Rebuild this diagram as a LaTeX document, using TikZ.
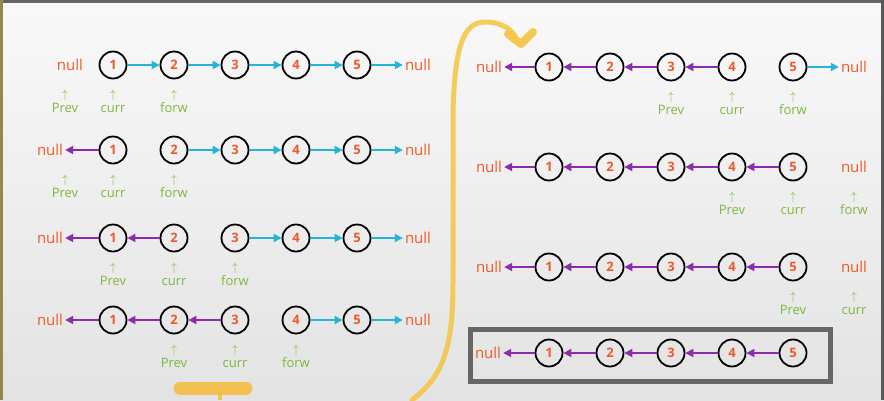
\documentclass[tikz,border=0pt]{standalone}
\usepackage{fontspec}
\setmainfont{Open Sans}
\usetikzlibrary{arrows.meta}

\definecolor{numred}{HTML}{EE5A2A}
\definecolor{ptrgreen}{HTML}{7DB83F}
\definecolor{fwdblue}{HTML}{25B4D6}
\definecolor{revpurple}{HTML}{8C2BAE}
\definecolor{penyellow}{HTML}{F4C542}
\definecolor{boxgrey}{HTML}{666666}

\tikzset{
  listnode/.style={draw, circle, line width=1.8pt, minimum size=27pt, inner sep=0pt, text=numred, font=\bfseries\fontsize{13}{13}\selectfont},
  nullnode/.style={text=numred, inner sep=2pt, font=\fontsize{15}{15}\selectfont},
  ptrnode/.style={text=ptrgreen, align=center, font=\fontsize{13}{14}\selectfont},
  fwdlink/.style={draw=fwdblue, line width=1.8pt, -{Triangle[length=8pt,width=8pt]}},
  revlink/.style={draw=revpurple, line width=1.8pt, -{Triangle[length=8pt,width=8pt]}},
}

\begin{document}
\begin{tikzpicture}[x=1pt, y=-1pt]
	% background and screen frame
	\fill[top color=gray!5, bottom color=gray!22] (0,0) rectangle (884,400);
	\useasboundingbox (0,0) rectangle (884,400);
	\fill[gray!80!black] (0,0) rectangle (884,3);
	\fill[olive!45!gray] (0,0) rectangle (2.5,400);
	\fill[gray!70!black] (881,0) rectangle (884,400);
	
	% pen strokes
	\draw[penyellow, line width=5pt, line cap=round, opacity=0.85] (412,400) .. controls (445,375) and (453,345) .. (453,280) -- (453,110) .. controls (455,50) and (462,22) .. (485,22) .. controls (500,22) and (510,28) .. (515,36);
	\draw[penyellow, line width=8pt, line cap=round, line join=round, opacity=0.9] (508,34) -- (521,44) -- (533,32);
	\draw[penyellow!85!orange, line width=13pt, line cap=round, opacity=0.85] (180,388) -- (246,388);
	\draw[penyellow!85!orange, line width=4pt, opacity=0.85] (220,392) -- (220,400);
	
	% one row per step: name/x/y/null gap/reversed links/pointer position
	\foreach \rw/\ox/\oy/\nx/\nrev/\pos in {a/113/65/43/0/0, b/113/150/63/1/0, c/113/238/63/2/1, d/113/320/63/3/2,
	    e/549/67/60/4/3, f/549/167/60/5/4, g/549/267/60/5/5, h/549/353/61/5/9} {
		\node[nullnode] (\rw0) at (\ox-\nx,\oy) {null};
		\foreach \i in {1,...,5}
			\node[listnode] (\rw\i) at (\ox+61*\i-61,\oy) {\i};
		\if\rw h\else
			\node[nullnode] (\rw6) at (\ox+305,\oy) {null};
		\fi
		% links still pointing forward
		\pgfmathtruncatemacro\first{\nrev+1}
		\ifnum\nrev<5
			\foreach \i [evaluate=\i as \j using int(\i+1)] in {\first,...,5}
				\draw[fwdlink] (\rw\i) -- (\rw\j);
		\fi
		% links already reversed
		\ifnum\nrev>0
			\foreach \i [evaluate=\i as \j using int(\i-1)] in {1,...,\nrev}
				\draw[revlink] (\rw\i) -- (\rw\j);
		\fi
		% prev / curr / forw
		\ifnum\pos<9
			\foreach \d/\lab in {0/Prev,1/curr,2/forw} {
				\pgfmathtruncatemacro\q{\pos+\d}
				\ifnum\q<7
					\pgfmathsetmacro\lx{\q==0 ? \ox-48 : \ox+61*\q-61}
					\node[ptrnode] (\rw\lab) at (\lx,\oy+36) {$\uparrow$\\\lab};
				\fi
			}
		\fi
	}
	
	% final reversed list
	\draw[boxgrey, line width=5pt] (470,329.5) rectangle (830,381);
	
\end{tikzpicture}
\end{document}
